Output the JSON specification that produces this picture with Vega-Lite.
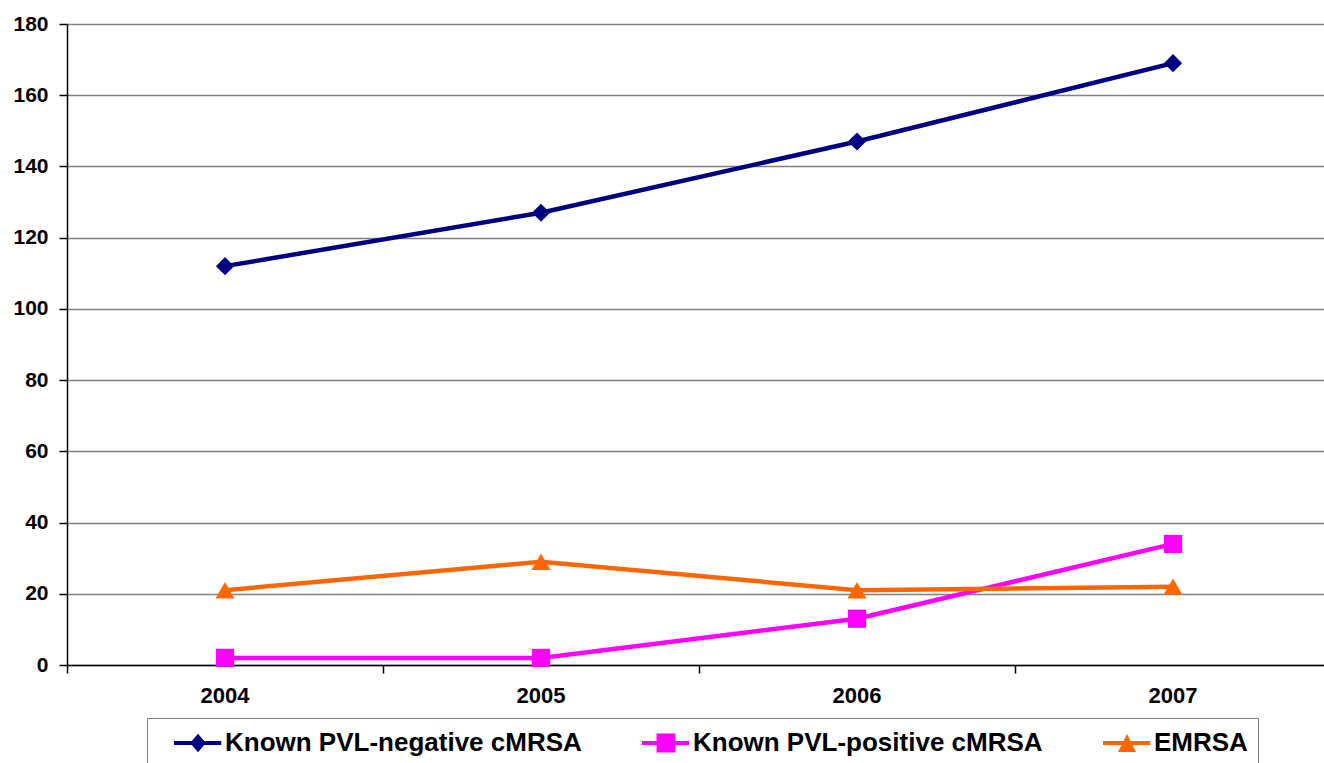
{
  "$schema": "https://vega.github.io/schema/vega-lite/v6.json",
  "autosize": {"type": "none"},
  "padding": {"left": 67, "top": 24, "right": 0, "bottom": 100},
  "width": 1264,
  "height": 641,
  "background": "white",
  "config": {
    "view": {"stroke": null},
    "font": "Liberation Sans"
  },
  "data": {
    "values": [
      {"year": "2004", "series": "Known PVL-negative cMRSA", "count": 112},
      {"year": "2005", "series": "Known PVL-negative cMRSA", "count": 127},
      {"year": "2006", "series": "Known PVL-negative cMRSA", "count": 147},
      {"year": "2007", "series": "Known PVL-negative cMRSA", "count": 169},
      {"year": "2004", "series": "Known PVL-positive cMRSA", "count": 2},
      {"year": "2005", "series": "Known PVL-positive cMRSA", "count": 2},
      {"year": "2006", "series": "Known PVL-positive cMRSA", "count": 13},
      {"year": "2007", "series": "Known PVL-positive cMRSA", "count": 34},
      {"year": "2004", "series": "EMRSA", "count": 21},
      {"year": "2005", "series": "EMRSA", "count": 29},
      {"year": "2006", "series": "EMRSA", "count": 21},
      {"year": "2007", "series": "EMRSA", "count": 22}
    ]
  },
  "encoding": {
    "x": {
      "field": "year",
      "type": "ordinal",
      "scale": {"type": "band", "paddingInner": 0, "paddingOuter": 0},
      "axis": {
        "title": null,
        "bandPosition": 0,
        "labelAngle": 0,
        "labelFont": "Liberation Sans",
        "labelFontSize": 22,
        "labelFontWeight": "bold",
        "labelColor": "black",
        "labelPadding": 12,
        "tickSize": 8,
        "tickColor": "black",
        "tickWidth": 1.5,
        "domainColor": "black",
        "domainWidth": 1.5,
        "grid": false
      }
    },
    "y": {
      "field": "count",
      "type": "quantitative",
      "scale": {"domain": [0, 180], "nice": false},
      "axis": {
        "title": null,
        "values": [0, 20, 40, 60, 80, 100, 120, 140, 160, 180],
        "labelFont": "Liberation Sans",
        "labelFontSize": 21,
        "labelFontWeight": "bold",
        "labelColor": "black",
        "labelPadding": 11,
        "tickSize": 8,
        "tickColor": "black",
        "tickWidth": 1.5,
        "domainColor": "black",
        "domainWidth": 1.5,
        "grid": true,
        "gridColor": "#808080",
        "gridWidth": 1.5
      }
    }
  },
  "layer": [
    {
      "mark": {"type": "line", "strokeWidth": 4.5},
      "encoding": {
        "color": {
          "field": "series",
          "type": "nominal",
          "scale": {
            "domain": ["Known PVL-negative cMRSA", "Known PVL-positive cMRSA", "EMRSA"],
            "range": ["#000080", "#FF00FF", "#FF6600"]
          },
          "legend": {
            "orient": "none",
            "legendX": 80,
            "legendY": 694,
            "direction": "horizontal",
            "title": " ",
            "titleOrient": "left",
            "titleFontSize": 1,
            "titlePadding": 35,
            "strokeColor": "#808080",
            "padding": 10,
            "columnPadding": 60,
            "labelFont": "Liberation Sans",
            "labelFontSize": 26,
            "labelFontWeight": "bold",
            "labelColor": "black",
            "labelOffset": 3,
            "labelLimit": 0,
            "symbolSize": 900,
            "symbolStrokeWidth": 0,
            "encode": {
              "symbols": {
                "update": {
                  "shape": {"signal": "datum.value === 'EMRSA' ? 'M-2.2,-0.14H0.95V0.14H-2.2Z M-0.6,-0.6L0,0.6L-1.2,0.6Z' : (datum.value === 'Known PVL-positive cMRSA' ? 'M-2.2,-0.14H0.95V0.14H-2.2Z M-1.23,-0.63H0.03V0.63H-1.23Z' : 'M-2.2,-0.14H0.95V0.14H-2.2Z M-0.6,-0.62L-0.07,0L-0.6,0.62L-1.13,0Z')"},
                  "fill": {"scale": "color", "field": "value"},
                  "strokeWidth": {"value": 0},
                  "opacity": {"value": 1}
                }
              }
            }
          }
        }
      }
    },
    {
      "transform": [{"filter": "datum.series === 'Known PVL-negative cMRSA'"}],
      "mark": {"type": "point", "shape": "diamond", "filled": true, "opacity": 1, "size": 330},
      "encoding": {"color": {"field": "series", "type": "nominal", "legend": null}}
    },
    {
      "transform": [{"filter": "datum.series === 'Known PVL-positive cMRSA'"}],
      "mark": {"type": "point", "shape": "square", "filled": true, "opacity": 1, "size": 330},
      "encoding": {"color": {"field": "series", "type": "nominal", "legend": null}}
    },
    {
      "transform": [{"filter": "datum.series === 'EMRSA'"}],
      "mark": {"type": "point", "shape": "triangle-up", "filled": true, "opacity": 1, "size": 360},
      "encoding": {"color": {"field": "series", "type": "nominal", "legend": null}}
    }
  ]
}
